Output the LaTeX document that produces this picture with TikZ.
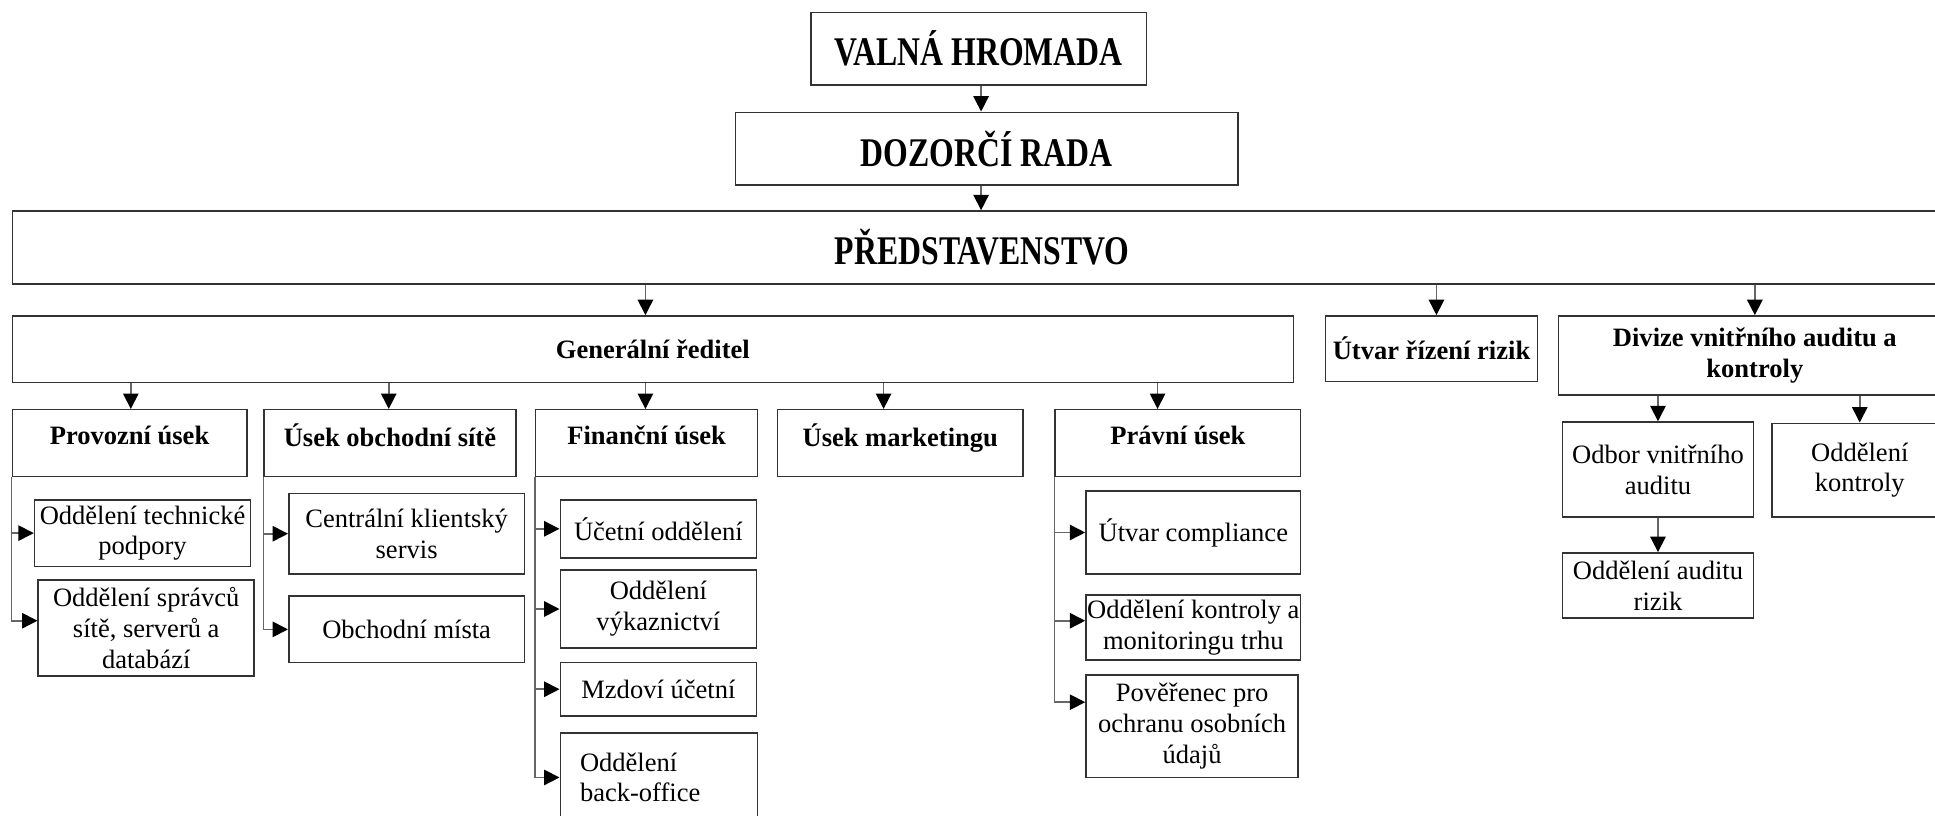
\documentclass[tikz,border=0pt]{standalone}
\usepackage{fontspec}
\setmainfont{Liberation Serif}
\newfontfamily\titlefont[FakeStretch=0.78]{Liberation Serif}
\usepackage{tikz}
\usetikzlibrary{arrows.meta}
\definecolor{boxc}{HTML}{333333}
\definecolor{linec}{HTML}{666666}
\tikzset{
  ar/.style={-{Triangle[length=7.5pt,width=7.5pt,color=black]},line width=0.75pt,linec},
  box/.style={draw=boxc,line width=0.75pt,align=center,inner xsep=0.5pt,inner ysep=1pt,font=\fontsize{12.9}{15}\selectfont},
  hd/.style={box,font=\fontsize{12.9}{15}\selectfont\bfseries},
  ttl/.style={box,font=\titlefont\fontsize{19.8}{22}\selectfont\bfseries}
}
\begin{document}
\begin{tikzpicture}[x=0.6pt,y=-0.6pt]
\useasboundingbox (0,0) rectangle (1568,661);
\node[ttl,minimum width=163.2pt,minimum height=35.4pt] (vh) at (793,39.5) {VALNÁ HROMADA};
\node[ttl,minimum width=244.2pt,minimum height=35.4pt] (dr) at (799.5,120.5) {DOZORČÍ RADA};
\node[ttl,minimum width=943.2pt,minimum height=35.4pt] (pred) at (796,200.5) {PŘEDSTAVENSTVO};
\node[hd,minimum width=622.8pt,minimum height=32.4pt] (gr) at (529,283) {Generální ředitel};
\node[hd,minimum width=103.2pt,minimum height=31.8pt] (utvar) at (1160,282.5) {Útvar řízení rizik};
\node[hd,minimum width=190.8pt,minimum height=38.4pt] (divize) at (1422,288) {Divize vnitřního auditu a\\kontroly};
\node[hd,text depth=8pt,minimum width=114pt,minimum height=32.4pt] (prov) at (105,359) {Provozní úsek};
\node[hd,text depth=8pt,minimum width=122.4pt,minimum height=32.4pt] (obch) at (316,359) {Úsek obchodní sítě};
\node[hd,text depth=8pt,minimum width=108pt,minimum height=32.4pt] (fin) at (524,359) {Finanční úsek};
\node[hd,text depth=8pt,minimum width=119.4pt,minimum height=32.4pt] (mark) at (729.5,359) {Úsek marketingu};
\node[hd,text depth=8pt,minimum width=119.4pt,minimum height=32.4pt] (prav) at (954.5,359) {Právní úsek};
\node[box,minimum width=105pt,minimum height=32.4pt] (tpod) at (115.5,432) {Oddělení technické\\podpory};
\node[box,minimum width=105pt,minimum height=46.8pt] (spr) at (118.5,509) {Oddělení správců\\sítě, serverů a\\databází};
\node[box,minimum width=114.6pt,minimum height=39pt] (cks) at (329.5,432.5) {Centrální klientský\\servis};
\node[box,minimum width=114.6pt,minimum height=32.4pt] (om) at (329.5,510) {Obchodní místa};
\node[box,minimum width=95.4pt,minimum height=28.2pt] (uo) at (533.5,428.5) {Účetní oddělení};
\node[box,minimum width=95.4pt,minimum height=37.8pt] (vyk) at (533.5,493.5) {Oddělení\\výkaznictví};
\node[box,minimum width=95.4pt,minimum height=25.8pt] (mzd) at (533.5,558.5) {Mzdoví účetní};
\node[box,align=left,text width=76.8pt,inner xsep=9.6pt,minimum height=43.2pt] (bo) at (534,630) {Oddělení\\back-office};
\node[box,minimum width=104.4pt,minimum height=40.2pt] (comp) at (967,431.5) {Útvar compliance};
\node[box,minimum width=104.4pt,minimum height=31.8pt] (kmt) at (967,508.5) {Oddělení kontroly a\\monitoringu trhu};
\node[box,minimum width=103.2pt,minimum height=49.8pt] (pov) at (966,588.5) {Pověřenec pro\\ochranu osobních\\údajů};
\node[box,minimum width=93pt,minimum height=46.2pt] (odbor) at (1343.5,380.5) {Odbor vnitřního\\auditu};
\node[box,minimum width=85.2pt,minimum height=45.6pt] (okont) at (1507,381) {Oddělení\\kontroly};
\node[box,minimum width=93pt,minimum height=31.8pt] (oar) at (1343.5,474.5) {Oddělení auditu\\rizik};
\draw[ar] (vh.south -| 795,0) -- (dr.north -| 795,0);
\draw[ar] (dr.south -| 795,0) -- (pred.north -| 795,0);
\draw[ar] (pred.south -| 523,0) -- (gr.north -| 523,0);
\draw[ar] (pred.south -| 1164,0) -- (utvar.north -| 1164,0);
\draw[ar] (pred.south -| 1422,0) -- (divize.north -| 1422,0);
\foreach \n/\x in {prov/106,obch/315,fin/523,mark/716,prav/938}{\draw[ar] (gr.south -| \x,0) -- (\n.north -| \x,0);}
\draw[ar] (prov.south west) |- (tpod.west);
\draw[ar] (prov.south west) |- (spr.west |- 0,503);
\foreach \n in {cks,om}{\draw[ar] (obch.south west) |- (\n.west);}
\foreach \n in {uo,vyk,mzd,bo}{\draw[ar] (fin.south west) |- (\n.west);}
\draw[ar] (prav.south west) |- (comp.west);
\draw[ar] (prav.south west) |- (kmt.west |- 0,503);
\draw[ar] (prav.south west) |- (pov.west |- 0,569);
\draw[ar] (divize.south -| odbor.north) -- (odbor.north);
\draw[ar] (divize.south -| okont.north) -- (okont.north);
\draw[ar] (odbor) -- (oar);
\end{tikzpicture}
\end{document}
